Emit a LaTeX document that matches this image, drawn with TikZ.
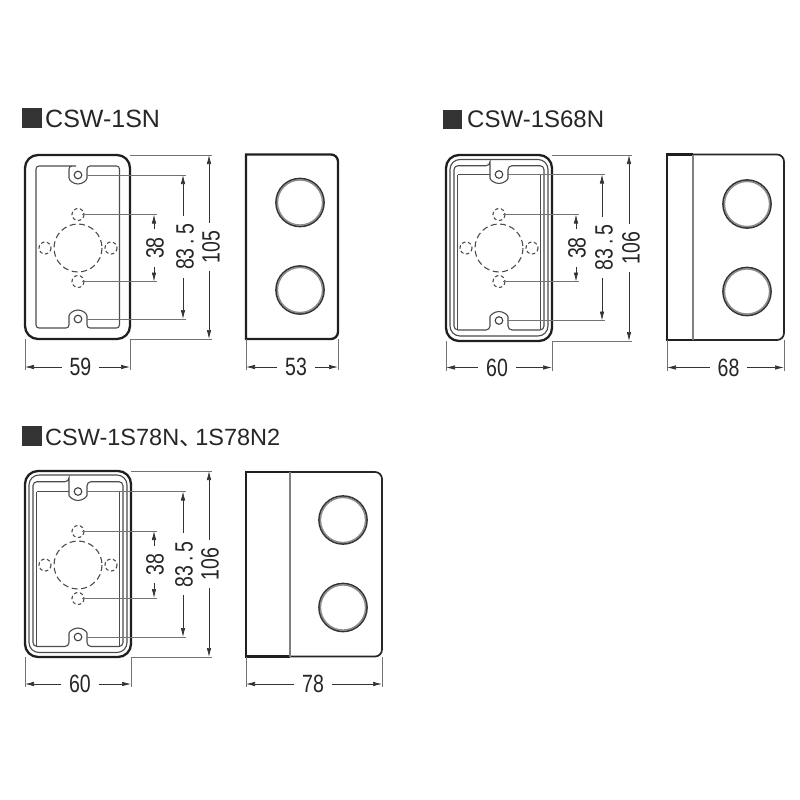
\documentclass[tikz,border=0pt]{standalone}
\usepackage{fontspec}
\setmainfont{Liberation Sans}
\newfontfamily\dimfont[FakeStretch=0.78]{Liberation Sans}
\newfontfamily\cjkfont{Noto Sans CJK JP}
\usetikzlibrary{arrows.meta}
\tikzset{
  outline/.style = {draw=black!88, line width=2.3pt},
  rim/.style = {draw=black!70, line width=1.1pt},
  sideline/.style = {draw=black!85, line width=1.7pt},
  foldline/.style = {draw=black!50, line width=1.3pt},
  ringout/.style = {draw=black!80, line width=1.7pt},
  ringin/.style = {draw=black!45, line width=1.5pt},
  hole/.style = {draw=black!75, line width=1.1pt},
  knockbig/.style = {draw=black!70, line width=1.1pt, dash pattern=on 6pt off 3.5pt},
  knocksmall/.style = {draw=black!70, line width=1.1pt, dash pattern=on 3.5pt off 2.5pt},
  extline/.style = {draw=black!55, line width=.6pt},
  dimline/.style = {draw=black!80, line width=.7pt, {Latex[length=9pt,width=4.5pt]}-{Latex[length=9pt,width=4.5pt]}},
  dimtext/.style = {font=\dimfont\fontsize{25}{25}\selectfont, text=black!85, fill=white, inner xsep=8pt, inner ysep=0pt},
  heading/.style = {font=\fontsize{24}{24}\selectfont, text=black!85, anchor=base west, inner sep=0pt},
  marker/.style = {fill=black!80, minimum size=19.5pt, inner sep=0pt}
}
% vertical dimension: name, arrow x, top y, bottom y, start x, label, label shift
\newcommand{\vdim}[7]{
  \coordinate (#1a) at (#5,#3); \coordinate (#1b) at (#2+3,#3);
  \coordinate (#1c) at (#5,#4); \coordinate (#1d) at (#2+3,#4);
  \coordinate (#1t) at (#2,#3); \coordinate (#1u) at (#2,#4);
  \path [extline] (#1a) -- (#1b);
  \path [extline] (#1c) -- (#1d);
  \path [dimline] (#1t) -- node[dimtext, xshift=#7pt, rotate=90] {#6} (#1u);
}
% horizontal dimension: name, arrow y, left x, right x, start y, label, label shift
\newcommand{\hdim}[7]{
  \coordinate (#1a) at (#3,#5); \coordinate (#1b) at (#3,#2+3);
  \coordinate (#1c) at (#4,#5); \coordinate (#1d) at (#4,#2+3);
  \coordinate (#1t) at (#3,#2); \coordinate (#1u) at (#4,#2);
  \path [extline] (#1a) -- (#1b);
  \path [extline] (#1c) -- (#1d);
  \path [dimline] (#1t) -- node[dimtext, xshift=#7pt] {#6} (#1u);
}
\begin{document}
\begin{tikzpicture}[x=1pt, y=-1pt]
  \useasboundingbox (0,0) rectangle (800,800);

  % Headings
  \node[marker] (markA) at (32,118) {};
  \node[heading, font=\fontsize{25}{25}\selectfont] (titleA) at (45,127) {CSW-1SN};
  \node[marker] (markB) at (452.5,119.5) {};
  \node[heading] (titleB) at (467,127.5) {CSW-1S68N};
  \node[marker] (markC) at (32,436) {};
  \node[heading, font=\fontsize{23.5}{24}\selectfont] (titleC) at (45,445) {CSW-1S78N\makebox[16pt][l]{\cjkfont 、}1S78N2};

  % Front views: knockouts and screws
  \foreach \cx/\cy in {78/248, 499/248, 78/565} {
    \draw[knockbig] (\cx,\cy) circle (24);
    \draw[knocksmall] (\cx,\cy-33.5) circle (6);
    \draw[knocksmall] (\cx,\cy+33.5) circle (6);
    \draw[knocksmall] (\cx-33,\cy) circle (6);
    \draw[knocksmall] (\cx+33,\cy) circle (6);
  }
  \foreach \cx/\cy in {78/175, 78/319, 499/174.5, 499/320.5, 78/491.5, 78/637} {
    \draw[hole] (\cx,\cy) circle (3.8);
  }

  % Front view: CSW-1SN
  \draw[outline, rounded corners=13] (25,155) rectangle (130,339);
  \draw[rim, rounded corners=3] (78,166) -- (36,166) -- (36,328) -- (69,328) -- (69,319)
    arc[start angle=180, end angle=360, radius=9] -- (87,328) -- (119.5,328) -- (119.5,166)
    -- (87,166) -- (87,175) arc[start angle=0, end angle=180, radius=9] -- (69,166) -- cycle;

  % Front view: CSW-1S68N
  \draw[outline, rounded corners=13] (446,155) rectangle (552,341);
  \draw[rim, rounded corners=10] (450,159.5) rectangle (548,336);
  \draw[rim, rounded corners=4] (490,165.7) -- (454,165.7) -- (454,330) -- (490,330) -- (490,320.5)
    arc[start angle=180, end angle=360, radius=9] -- (508,330) -- (544,330) -- (544,165.7)
    -- (508,165.7) -- (508,174.5) arc[start angle=0, end angle=180, radius=9] -- (490,165.7) -- cycle;
  \draw[rim] (457.5,174.5) -- (490,174.5);
  \draw[rim] (457.5,174.5) -- (457.5,330);
  \draw[rim] (540.5,174.5) -- (540.5,330);

  % Front view: CSW-1S78N
  \draw[outline, rounded corners=13] (25,471) rectangle (131,657);
  \draw[rim, rounded corners=10] (29,475) rectangle (127,652.5);
  \draw[rim, rounded corners=4] (69,481.7) -- (33,481.7) -- (33,646.5) -- (69,646.5) -- (69,637)
    arc[start angle=180, end angle=360, radius=9] -- (87,646.5) -- (123,646.5) -- (123,481.7)
    -- (87,481.7) -- (87,491.5) arc[start angle=0, end angle=180, radius=9] -- (69,481.7) -- cycle;
  \draw[rim] (36.5,491.5) -- (69,491.5);
  \draw[rim] (36.5,491.5) -- (36.5,646.5);
  \draw[rim] (119.5,491.5) -- (119.5,646.5);

  % Side view: CSW-1SN
  \draw[outline, rounded corners=7] (246,154.5) -- (338,154.5) -- (338,339) [sharp corners] -- (246,339) -- cycle;

  % Side view: CSW-1S68N
  \draw[sideline, rounded corners=7] (693,154.5) -- (784,154.5) -- (784,340) -- (693,340);
  \draw[outline] (693,154.5) -- (667,154.5) -- (667,340) -- (693,340);
  \draw[foldline] (693,154.5) -- (693,340);

  % Side view: CSW-1S78N
  \draw[sideline, rounded corners=7] (290,472) -- (382,472) -- (382,656.5) -- (290,656.5);
  \draw[outline] (290,472) -- (246,472) -- (246,656.5) -- (290,656.5);
  \draw[foldline] (290,472) -- (290,656.5);

  % Side views: entries
  \foreach \cx/\cy in {300/202.5, 300/290, 747/204, 747/291.5, 343/520, 343/607.5} {
    \draw[ringout] (\cx,\cy) circle (24);
    \draw[ringin] (\cx,\cy) circle (22.6);
  }

  % Dimensions: CSW-1SN
  \vdim{aH}{209}{155}{339}{130}{105}{2}
  \vdim{aS}{183}{175}{319}{87}{83\kern4pt.\kern4pt5}{2}
  \vdim{aK}{154}{214.5}{281.5}{82}{38}{1}
  \hdim{aW}{367}{25}{130}{339}{59}{3}
  \hdim{aD}{367}{246}{338}{339}{53}{4}

  % Dimensions: CSW-1S68N
  \vdim{bH}{629}{155}{341}{552}{106}{2}
  \vdim{bS}{602}{174.5}{320.5}{507}{83\kern4pt.\kern4pt5}{2}
  \vdim{bK}{576}{214.5}{281.5}{503}{38}{1}
  \hdim{bW}{367.5}{446}{552}{341}{60}{-2}
  \hdim{bD}{367.5}{667}{784}{340}{68}{3}

  % Dimensions: CSW-1S78N
  \vdim{cH}{209}{471}{657}{131}{106}{1}
  \vdim{cS}{183}{491.5}{637}{87}{83\kern4pt.\kern4pt5}{1}
  \vdim{cK}{154}{531}{598}{82}{38}{1}
  \hdim{cW}{684}{25}{131}{657}{60}{2}
  \hdim{cD}{684}{246}{382}{657}{78}{-1}

\end{tikzpicture}
\end{document}
